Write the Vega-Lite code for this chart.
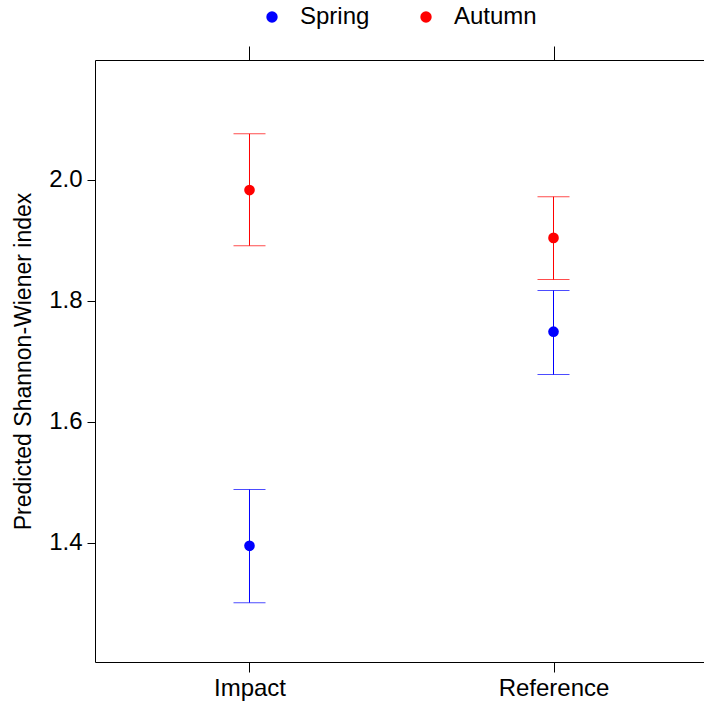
{
  "$schema": "https://vega.github.io/schema/vega-lite/v6.json",
  "width": 613,
  "height": 602,
  "autosize": {"type": "none"},
  "padding": {"left": 95, "top": 60, "right": -4, "bottom": 43},
  "background": "white",
  "config": {
    "view": {"stroke": null},
    "font": "Liberation Sans",
    "axis": {
      "grid": false,
      "labelColor": "black",
      "titleColor": "black",
      "domainColor": "black",
      "tickColor": "black",
      "domainWidth": 1,
      "tickWidth": 1,
      "labelFont": "Liberation Sans",
      "titleFont": "Liberation Sans"
    },
    "legend": {"labelFont": "Liberation Sans"}
  },
  "resolve": {"axis": {"x": "independent"}},
  "data": {
    "values": [
      {"site": "Impact", "season": "Spring", "fit": 1.395, "lower": 1.301, "upper": 1.488},
      {"site": "Impact", "season": "Autumn", "fit": 1.983, "lower": 1.891, "upper": 2.076},
      {"site": "Reference", "season": "Spring", "fit": 1.749, "lower": 1.678, "upper": 1.817},
      {"site": "Reference", "season": "Autumn", "fit": 1.904, "lower": 1.835, "upper": 1.972}
    ]
  },
  "layer": [
    {
      "mark": {"type": "point", "filled": true, "size": 113, "opacity": 1, "fillOpacity": 1, "shape": "circle"},
      "encoding": {
        "x": {
          "field": "site", "type": "nominal",
          "scale": {"type": "point", "padding": 0.5082},
          "axis": {"orient": "bottom", "title": null, "labelAngle": 0, "labelFontSize": 24, "tickSize": 10, "labelPadding": 4, "domain": true}
        },
        "y": {
          "field": "fit", "type": "quantitative",
          "scale": {"domain": [1.203, 2.198], "nice": false, "zero": false},
          "axis": {"orient": "left", "title": "Predicted Shannon-Wiener index", "titleFontSize": 23, "titleFontWeight": "normal", "labelFontSize": 24, "tickSize": 8, "labelPadding": 5, "titlePadding": 13, "values": [1.4, 1.6, 1.8, 2.0], "format": ".1f"}
        },
        "color": {
          "field": "season", "type": "nominal",
          "scale": {"domain": ["Spring", "Autumn"], "range": ["#0000ff", "#ff0000"]},
          "legend": {
            "title": null,
            "orient": "none",
            "direction": "horizontal",
            "legendX": 165,
            "legendY": -55,
            "padding": 0,
            "symbolType": "circle",
            "symbolSize": 130,
            "symbolStrokeWidth": 0,
            "symbolOpacity": 1,
            "labelFontSize": 24,
            "labelColor": "black",
            "labelOffset": 16,
            "columnPadding": 44,
            "encode": {"symbols": {"update": {"opacity": {"value": 1}, "fillOpacity": {"value": 1}}}}
          }
        }
      }
    },
    {
      "mark": {"type": "rule", "strokeWidth": 1},
      "encoding": {
        "x": {"field": "site", "type": "nominal", "axis": {"orient": "bottom", "title": null, "labels": false, "ticks": false, "domain": false}},
        "y": {"field": "lower", "type": "quantitative"},
        "y2": {"field": "upper"},
        "color": {"field": "season", "type": "nominal"}
      }
    },
    {
      "mark": {"type": "tick", "size": 32, "thickness": 1},
      "encoding": {
        "x": {"field": "site", "type": "nominal", "axis": {"orient": "bottom", "title": null, "labels": false, "ticks": false, "domain": false}},
        "y": {"field": "lower", "type": "quantitative"},
        "color": {"field": "season", "type": "nominal"}
      }
    },
    {
      "mark": {"type": "tick", "size": 32, "thickness": 1},
      "encoding": {
        "x": {
          "field": "site", "type": "nominal",
          "axis": {"orient": "top", "title": null, "labels": false, "tickSize": 14, "domain": true}
        },
        "y": {"field": "upper", "type": "quantitative"},
        "color": {"field": "season", "type": "nominal"}
      }
    }
  ]
}
